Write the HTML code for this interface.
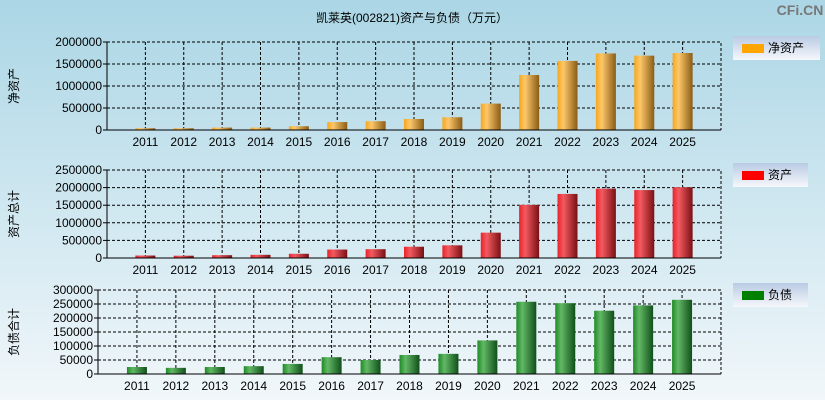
<!DOCTYPE html>
<html><head><meta charset="utf-8"><style>
body{margin:0;width:825px;height:400px;overflow:hidden;font-family:"Liberation Sans","Noto Sans CJK SC",sans-serif}
</style></head><body>
<svg id="c" width="825" height="400" xmlns="http://www.w3.org/2000/svg">
<defs>
<linearGradient id="bg" x1="0" y1="0" x2="0" y2="1"><stop offset="0" stop-color="#abd6e5"/><stop offset="1" stop-color="#f1f7fa"/></linearGradient>
<linearGradient id="g0" x1="0" x2="1"><stop offset="0" stop-color="#f5a71e"/><stop offset="0.3" stop-color="#fdc76a"/><stop offset="1" stop-color="#8a5c15"/></linearGradient>
<linearGradient id="g1" x1="0" x2="1"><stop offset="0" stop-color="#e8222a"/><stop offset="0.3" stop-color="#f35a60"/><stop offset="1" stop-color="#7a1014"/></linearGradient>
<linearGradient id="g2" x1="0" x2="1"><stop offset="0" stop-color="#1f8a26"/><stop offset="0.3" stop-color="#62b865"/><stop offset="1" stop-color="#10501a"/></linearGradient>
<linearGradient id="lg" x1="0" y1="0" x2="0" y2="1"><stop offset="0" stop-color="#b9cbe3"/><stop offset="1" stop-color="#f6f7fb"/></linearGradient>
</defs>
<rect width="825" height="400" fill="url(#bg)"/>
<text x="412" y="22" font-size="12" text-anchor="middle">凯莱英(002821)资产与负债（万元）</text>
<text x="800" y="15" font-size="14" font-weight="bold" fill="#777" text-anchor="middle">CFi.CN</text>
<g id="p"></g>
</svg>
<script>
const years=["2011","2012","2013","2014","2015","2016","2017","2018","2019","2020","2021","2022","2023","2024","2025"];
const netAssets=[40000,40000,55000,55000,85000,180000,200000,250000,290000,600000,1250000,1570000,1740000,1690000,1750000];
const totalAssets=[70000,65000,80000,90000,120000,240000,250000,320000,360000,720000,1510000,1820000,1970000,1930000,2010000];
const liabilities=[25000,22000,25000,28000,36000,60000,50000,68000,72000,120000,258000,253000,226000,245000,265000];
const ticks1=[0,500000,1000000,1500000,2000000];
const ticks2=[0,500000,1000000,1500000,2000000,2500000];
const ticks3=[0,50000,100000,150000,200000,250000,300000];
const NS="http://www.w3.org/2000/svg";
const root=document.getElementById('p');
function mk(t,a,txt){const e=document.createElementNS(NS,t);for(const k in a)e.setAttribute(k,a[k]);if(txt!=null)e.textContent=txt;root.appendChild(e);return e;}
const panels=[
{vals:netAssets,ticks:ticks1,max:2000000,l:107,t:42,b:130,fill:"url(#g0)",title:"净资产",leg:"净资产",lc:"#ffa500",ly:36,lw:87,key:"net-assets"},
{vals:totalAssets,ticks:ticks2,max:2500000,l:107,t:170,b:258,fill:"url(#g1)",title:"资产总计",leg:"资产",lc:"#ff0000",ly:163,lw:75,key:"total-assets"},
{vals:liabilities,ticks:ticks3,max:300000,l:98,t:290,b:374,fill:"url(#g2)",title:"负债合计",leg:"负债",lc:"#008000",ly:283,lw:75,key:"liabilities"}];
panels.forEach(p=>{
 const r=721,step=(r-p.l)/16;
 const x=i=>p.l+step*(i+1);
 const y=v=>p.b-(v/p.max)*(p.b-p.t);
 p.ticks.forEach(v=>{
  if(v>0){let g=mk('line',{x1:p.l,x2:r,y1:y(v),y2:y(v),stroke:'#000','stroke-dasharray':'3,2'});
  
  }
  let tk=mk('line',{x1:p.l-4,x2:p.l,y1:y(v),y2:y(v),stroke:'#000'});
  
  
  let t=mk('text',{x:p.l-5,y:y(v)+4,'font-size':12,'text-anchor':'end'},String(v));
  
  
 });
 years.forEach((yr,i)=>{
  let g=mk('line',{x1:x(i),x2:x(i),y1:p.t,y2:p.b,stroke:'#000','stroke-dasharray':'3,2'});
  
  
  let b=mk('rect',{x:x(i)-10,y:y(p.vals[i]),width:20,height:p.b-y(p.vals[i]),fill:p.fill});
  
  
  let t=mk('text',{x:x(i),y:p.b+16,'font-size':12,'text-anchor':'middle'},yr);
  
  
 });
 let bd=mk('polyline',{points:`${p.l},${p.t} ${r},${p.t} ${r},${p.b}`,fill:'none',stroke:'#000','stroke-dasharray':'3,2'});
 
 
 let ax=mk('line',{x1:p.l,x2:p.l,y1:p.t,y2:p.b,stroke:'#000'});
 
 
 let ax2=mk('line',{x1:p.l,x2:r,y1:p.b,y2:p.b,stroke:'#000'});
 
 
 let cy=(p.t+p.b)/2;
 let tt=mk('text',{x:0,y:0,'font-size':12,'text-anchor':'middle',transform:`translate(18,${cy}) rotate(-90)`},p.title);
 
 
 let lb=mk('rect',{x:733,y:p.ly,width:p.lw,height:24,fill:'url(#lg)'});
 
 
 let ls=mk('rect',{x:742,y:p.ly+8,width:22,height:9,fill:p.lc});
 
 
 let lt=mk('text',{x:768,y:p.ly+16,'font-size':12},p.leg);
 
 
});
</script>
</body></html>
